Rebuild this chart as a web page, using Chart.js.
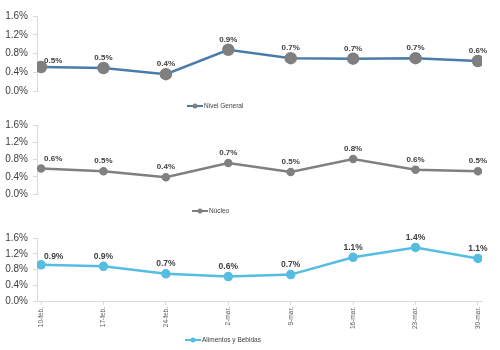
<!DOCTYPE html>
<html>
<head>
<meta charset="utf-8">
<script src="https://cdn.jsdelivr.net/npm/chart.js@4/dist/chart.umd.min.js"></script>
<style>
  body { margin: 0; background: #fff; width: 500px; height: 350px; overflow: hidden; font-family: "Liberation Sans", Arial, sans-serif; }
  .panel { position: absolute; left: 0; width: 500px; }
</style>
</head>
<body>
<div class="panel" style="top:0;height:112px"><canvas id="g1"></canvas></div>
<div class="panel" style="top:112px;height:110px"><canvas id="g2"></canvas></div>
<div class="panel" style="top:222px;height:128px"><canvas id="g3"></canvas></div>
<script>
// datos
    const fechas = ['10-feb.', '17-feb.', '24-feb.', '2-mar.', '9-mar.', '16-mar.', '23-mar.', '30-mar.'];
    const nivelGeneral = [0.51, 0.49, 0.36, 0.88, 0.70, 0.69, 0.70, 0.64];
    const nucleo = [0.59, 0.53, 0.39, 0.72, 0.51, 0.81, 0.56, 0.53];
    const alimentos = [0.92, 0.88, 0.69, 0.62, 0.67, 1.11, 1.36, 1.08];
    const yTicks = [0, 0.4, 0.8, 1.2, 1.6];

    const FUENTE = '"Liberation Sans", Arial, sans-serif';

// etiquetas de valor sobre cada punto
    const etiquetas = {
        id: 'etiquetas',
        afterDatasetsDraw(chart, args, opts) {
            const ctx = chart.ctx;
            const meta = chart.getDatasetMeta(0);
            const datos = chart.data.datasets[0].data;
            ctx.save();
            ctx.font = 'bold ' + opts.size + 'px ' + FUENTE;
            ctx.fillStyle = '#404040';
            ctx.textBaseline = 'middle';
            meta.data.forEach((p, i) => {
                const txt = datos[i].y.toFixed(1) + '%';
                if (i === 0) {
                    ctx.textAlign = 'left';
                    ctx.fillText(txt, p.x + 3, p.y - opts.primero);
                } else {
                    ctx.textAlign = 'center';
                    ctx.fillText(txt, p.x, p.y - 10);
                }
            });
            ctx.restore();
        }
    };

// leyenda tipo excel (linea con marcador)
    const leyenda = {
        id: 'leyenda',
        afterDraw(chart, args, opts) {
            const ctx = chart.ctx;
            const ds = chart.data.datasets[0];
            ctx.save();
            ctx.strokeStyle = ds.borderColor;
            ctx.lineWidth = 2;
            ctx.beginPath();
            ctx.moveTo(opts.x, opts.y);
            ctx.lineTo(opts.x + 16, opts.y);
            ctx.stroke();
            ctx.fillStyle = ds.pointBackgroundColor;
            ctx.beginPath();
            ctx.arc(opts.x + 8, opts.y, 2.5, 0, Math.PI * 2);
            ctx.fill();
            ctx.font = '6.5px ' + FUENTE;
            ctx.fillStyle = '#404040';
            ctx.textAlign = 'left';
            ctx.textBaseline = 'middle';
            ctx.fillText(opts.texto, opts.x + 17, opts.y);
            ctx.restore();
        }
    };

// crea cada panel
    function crearPanel(id, serie, nombre, color, punto, radio, conEjeX, abajo, arriba, ley, etq) {
        const ctx = document.getElementById(id).getContext('2d');
        return new Chart(ctx, {
            type: 'line',
            data: {
                datasets: [{
                    label: nombre,
                    data: serie.map((v, i) => ({ x: i, y: v })),
                    borderColor: color,
                    borderWidth: 2.5,
                    pointBackgroundColor: punto,
                    pointBorderColor: punto,
                    pointRadius: radio,
                    tension: 0
                }]
            },
            options: {
                responsive: true,
                maintainAspectRatio: false,
                animation: false,
                layout: { padding: { top: arriba, bottom: abajo, left: 0, right: 18 } },
                plugins: {
                    legend: { display: false },
                    tooltip: { enabled: false },
                    etiquetas: etq,
                    leyenda: ley
                },
                scales: {
                    x: {
                        type: 'linear',
                        min: -0.065,
                        max: 7.065,
                        display: conEjeX,
                        afterBuildTicks: s => { s.ticks = fechas.map((f, i) => ({ value: i })); },
                        afterFit: s => { s.height = conEjeX ? 49 : 0; },
                        ticks: {
                            autoSkip: false,
                            minRotation: 90,
                            maxRotation: 90,
                            padding: 2,
                            color: '#595959',
                            font: { size: 6.5, family: FUENTE },
                            callback: v => fechas[v]
                        },
                        grid: { drawOnChartArea: false, tickLength: 4, color: '#d9d9d9' },
                        border: { color: '#d9d9d9' }
                    },
                    y: {
                        min: 0,
                        max: 1.6,
                        afterBuildTicks: s => { s.ticks = yTicks.map(v => ({ value: v })); },
                        afterFit: s => { s.width = 37; },
                        ticks: {
                            padding: 5,
                            color: '#404040',
                            font: { size: 10, family: FUENTE },
                            callback: v => v.toFixed(1) + '%'
                        },
                        grid: { drawOnChartArea: false, tickLength: 4, color: '#d9d9d9' },
                        border: { color: '#d9d9d9' }
                    }
                }
            },
            plugins: [etiquetas, leyenda]
        });
    }

    crearPanel('g1', nivelGeneral, 'Nivel General', '#4a7cab', '#7f7f7f', 5, false, 21, 16,
        { x: 187, y: 106, texto: 'Nivel General' }, { size: 8, primero: 6 });

    crearPanel('g2', nucleo, 'Núcleo', '#808080', '#808080', 3, false, 28, 13,
        { x: 192, y: 99, texto: 'Núcleo' }, { size: 8, primero: 10 });

    crearPanel('g3', alimentos, 'Alimentos y Bebidas', '#55bde2', '#55bde2', 3.5, true, 0, 16,
        { x: 185, y: 118, texto: 'Alimentos y Bebidas' }, { size: 8.5, primero: 8 });
</script>
</body>
</html>
